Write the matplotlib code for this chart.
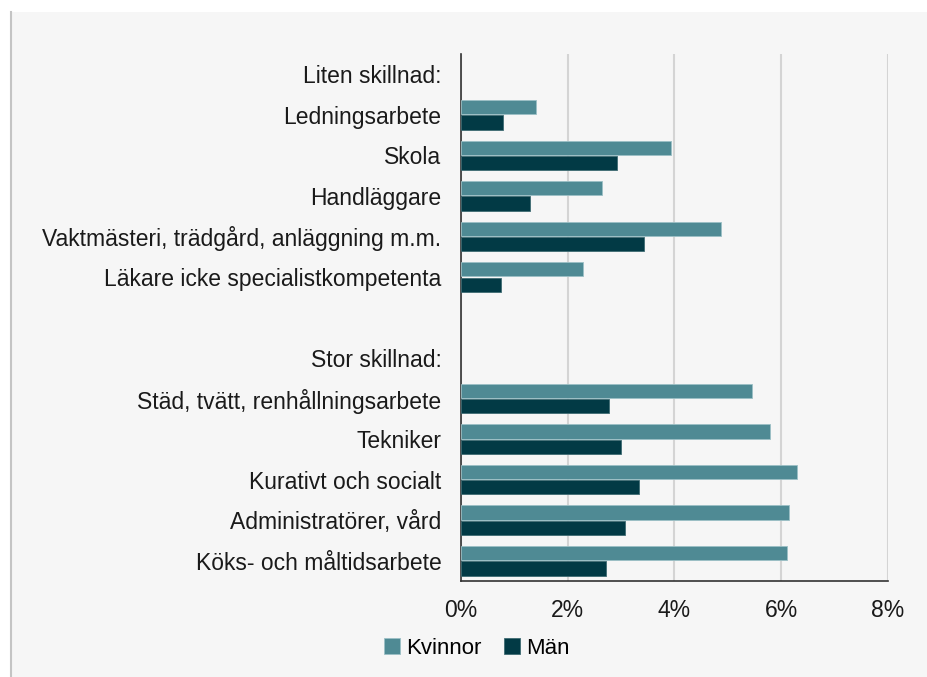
import numpy as np
import matplotlib.pyplot as plt
from matplotlib.patches import Rectangle

plt.rcParams['font.family'] = ['Liberation Sans', 'DejaVu Sans']

# rows from top to bottom; header/blank rows carry no bars
categories = ['Liten skillnad:', 'Ledningsarbete', 'Skola', 'Handläggare',
              'Vaktmästeri, trädgård, anläggning m.m.',
              'Läkare icke specialistkompetenta', '', 'Stor skillnad:',
              'Städ, tvätt, renhållningsarbete', 'Tekniker',
              'Kurativt och socialt', 'Administratörer, vård',
              'Köks- och måltidsarbete']
kvinnor = [np.nan, 1.40, 3.94, 2.65, 4.87, 2.29, np.nan, np.nan,
           5.45, 5.79, 6.30, 6.15, 6.10]
man = [np.nan, 0.79, 2.93, 1.30, 3.43, 0.75, np.nan, np.nan,
       2.77, 3.00, 3.34, 3.08, 2.72]
xticks = [0, 2, 4, 6, 8]

col_k = '#4f8a94'
col_m = '#023a45'

fig = plt.figure(figsize=(9.28, 6.77), dpi=100)
fig.patch.set_facecolor('white')
# grey panel behind the chart
fig.patches.append(Rectangle((11 / 928, 0), 1 - 11 / 928, 1 - 12 / 677,
                             transform=fig.transFigure, facecolor='#f6f6f6',
                             edgecolor='none', zorder=-5))
fig.add_artist(plt.Line2D([11.5 / 928, 11.5 / 928], [0, 1 - 12 / 677],
                          transform=fig.transFigure, color='#c4c4c4', lw=1.5,
                          zorder=-4))

ax = fig.add_axes([461 / 928, 1 - 581 / 677, 427 / 928, 527 / 677])
ax.set_zorder(2)
ax.set_facecolor('none')

y = np.arange(len(categories))
h = 0.35
off = 0.19
ax.barh(y - off, kvinnor, height=h, color=col_k, edgecolor='#9cc0c6',
        linewidth=0.6, label='Kvinnor', zorder=3)
ax.barh(y + off, man, height=h, color=col_m, edgecolor='#3f6b73',
        linewidth=0.6, label='Män', zorder=3)

ax.set_ylim(12.5, -0.5)
ax.set_xlim(0, 8)
ax.set_yticks(y)
ax.set_yticklabels(categories, fontsize=16.5, color='#1a1a1a')
ax.set_xticks(xticks)
ax.set_xticklabels([f'{t}%' for t in xticks], fontsize=16.5, color='#1a1a1a')
ax.tick_params(axis='y', length=0, pad=14)
ax.tick_params(axis='x', length=0, pad=13)

ax.grid(axis='x', color='#d4d4d4', lw=1.5, zorder=0)
ax.set_axisbelow(True)
for s in ['top', 'right']:
    ax.spines[s].set_visible(False)
ax.spines['left'].set_color('#333333')
ax.spines['bottom'].set_color('#333333')
ax.spines['left'].set_linewidth(1.2)
ax.spines['bottom'].set_linewidth(1.2)

fig.legend(loc='center', bbox_to_anchor=(477 / 928, 1 - 648 / 677), ncol=2,
           frameon=False, fontsize=16, handlelength=0.7, handleheight=0.7,
           handletextpad=0.3, columnspacing=1.0)

fig.savefig('out.png', dpi=100)
